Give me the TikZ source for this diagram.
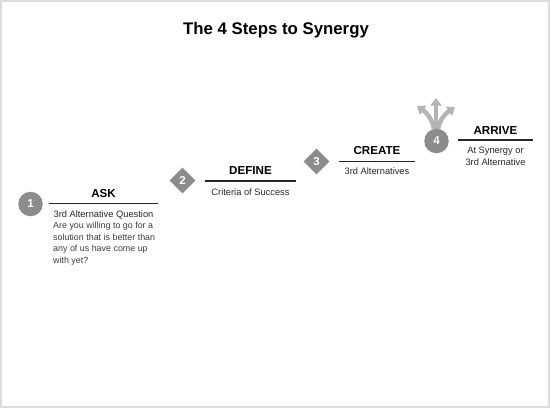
\documentclass[tikz,border=0pt]{standalone}
\usepackage{fontspec}
\setmainfont{Liberation Sans}
\usetikzlibrary{arrows.meta,shapes.geometric}
\definecolor{badge}{HTML}{8C8C8C}
\definecolor{fan}{HTML}{B4B4B4}
\definecolor{frame}{HTML}{DCDCDC}
\definecolor{bodytxt}{HTML}{3C3C3C}
\begin{document}
\begin{tikzpicture}[x=1pt,y=-1pt,
  headtxt/.style={font=\fontsize{11.6}{12}\selectfont\bfseries, anchor=base, inner sep=0pt},
  subtxt/.style={font=\fontsize{9.3}{12}\selectfont, anchor=base, inner sep=0pt, text=black!85},
  bodyline/.style={font=\fontsize{8.9}{11}\selectfont, anchor=base west, inner sep=0pt, text=bodytxt},
  rule/.style={line width=1.1pt, black!85},
  roundbadge/.style={circle, fill=badge, minimum size=24.5pt, inner sep=0pt, text=white, font=\fontsize{11.5}{12}\selectfont\bfseries},
  diamondbadge/.style={diamond, fill=badge, minimum size=26pt, inner sep=0pt, text=white, font=\fontsize{11.5}{12}\selectfont\bfseries},
  fanarrow/.style={line width=4.4pt, fan, -{Triangle[width=11pt,length=7.5pt]}}
]
\useasboundingbox (0,0) rectangle (550,408);
\draw[frame, line width=1.6pt] (1,1) rectangle (549,407);

% title
\node[font=\fontsize{16.8}{18}\selectfont\bfseries, anchor=base, inner sep=0pt] (title) at (276,34) {The 4 Steps to Synergy};

% step 1
\node[roundbadge] (b1) at (30.5,204) {1};
\coordinate (r1a) at (49,203.5);
\coordinate (r1b) at (158,203.5);
\draw[rule] (r1a) -- (r1b);
\node[headtxt] (ask) at (103.5,197.8) {ASK};
\node[subtxt] (asksub) at (103.5,217) {3rd Alternative Question};
\node[bodyline] (q1) at (53,228.5) {Are you willing to go for a};
\node[bodyline] (q2) at (53,240) {solution that is better than};
\node[bodyline] (q3) at (53,251.5) {any of us have come up};
\node[bodyline] (q4) at (53,263) {with yet?};

% step 2
\node[diamondbadge] (b2) at (182.5,180.5) {2};
\coordinate (r2a) at (205,181);
\coordinate (r2b) at (296,181);
\draw[rule] (r2a) -- (r2b);
\node[headtxt] (define) at (250.5,174.8) {DEFINE};
\node[subtxt] (definesub) at (250.5,195) {Criteria of Success};

% step 3
\node[diamondbadge] (b3) at (316.5,161.5) {3};
\coordinate (r3a) at (339,161.3);
\coordinate (r3b) at (415,161.3);
\draw[rule] (r3a) -- (r3b);
\node[headtxt] (create) at (377,154.8) {CREATE};
\node[subtxt] (createsub) at (377,174.5) {3rd Alternatives};

% step 4
\coordinate (fl0) at (434,129);
\coordinate (fm0) at (436,129);
\coordinate (fr0) at (438,129);
\coordinate (fl1) at (417,106);
\coordinate (fm1) at (436,98);
\coordinate (fr1) at (455,107);
\draw[fanarrow] (fl0) .. controls (432,119) and (427,113) .. (fl1);
\draw[fanarrow] (fm0) -- (fm1);
\draw[fanarrow] (fr0) .. controls (440,119) and (445,114) .. (fr1);
\node[roundbadge] (b4) at (436.5,141) {4};
\coordinate (r4a) at (458,140);
\coordinate (r4b) at (533,140);
\draw[rule] (r4a) -- (r4b);
\node[headtxt] (arrive) at (495.5,134.8) {ARRIVE};
\node[subtxt] (arrivesub1) at (495.5,153.5) {At Synergy or};
\node[subtxt] (arrivesub2) at (495.5,165.5) {3rd Alternative};
\end{tikzpicture}
\end{document}
